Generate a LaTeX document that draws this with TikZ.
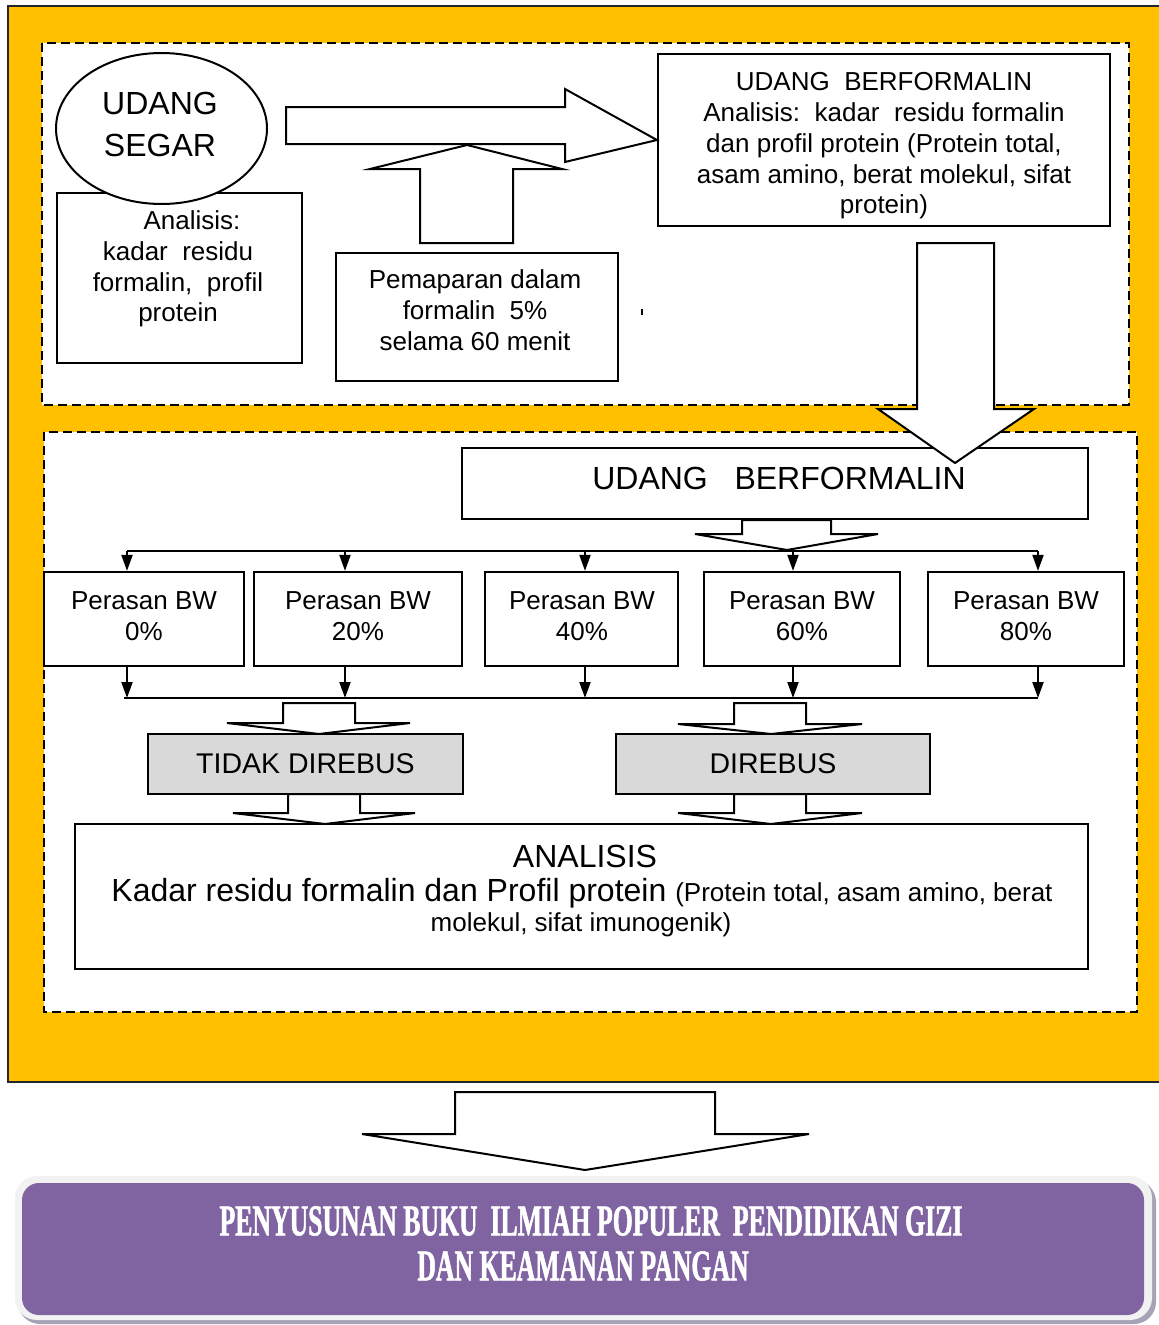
\documentclass[tikz,border=0pt]{standalone}
\usepackage{fontspec}
\setmainfont{Liberation Sans}
\newfontfamily\condfont[FakeStretch=0.585,FakeBold=1.2]{Liberation Serif}
\usetikzlibrary{arrows.meta,shapes.geometric}
\definecolor{gold}{HTML}{FFC000}
\definecolor{purp}{HTML}{8064A2}
\definecolor{boxgray}{HTML}{D9D9D9}
\definecolor{rimgray}{HTML}{F2F2F2}
\definecolor{shadowgray}{HTML}{A5A3B5}
\newcommand\bodyfs{\fontsize{26}{30.75}\selectfont}
\newcommand\titlefs{\fontsize{32}{42}\selectfont}
\newcommand\midfs{\fontsize{28.5}{34}\selectfont}
\begin{document}
\begin{tikzpicture}[x=1pt,y=-1pt,
  box/.style={draw, line width=2.2pt, fill=white, inner sep=0pt},
  grbox/.style={box, fill=boxgray, line width=1.8pt},
  blockarrow/.style={draw, line width=2pt, fill=white, line join=miter},
  dashbox/.style={draw, line width=2pt, dash pattern=on 9pt off 5pt, fill=white},
  flow/.style={line width=2pt, -{Triangle[width=11pt,length=16pt]}},
  bus/.style={line width=2pt},
  txt/.style={inner sep=0pt, align=center, font=\bodyfs}]
\useasboundingbox (0,0) rectangle (1159,1325);
\clip (0,0) rectangle (1159,1325);
\fill[white] (0,0) rectangle (1159,1325);
% outer yellow panel
\draw[fill=gold, draw=black!85, line width=2pt] (8,6) rectangle (1175,1082);
\draw[dashbox] (42,43) rectangle (1129,405);
\draw[dashbox] (44,432) rectangle (1137,1012);

% ---- top section ----
\node[box, minimum width=245, minimum height=170, anchor=north west] (ana) at (56,192) {};
\node[ellipse, draw, line width=2pt, fill=white, minimum width=211, minimum height=151, inner sep=0pt] (segar) at (161.5,128.5) {};
\node[txt, font=\titlefs] (segartxt) at (160,124) {UDANG\\SEGAR};
\node[txt] (anatxt) at (178,269) {\hspace*{28pt}Analisis:\\kadar\ \ residu\\formalin,\ \ profil\\protein};

\node[box, minimum width=452, minimum height=172] (bf1) at (884,140) {};
\node[txt] (bf1txt) at (884,146)
  {UDANG\ \ BERFORMALIN\\Analisis:\ \ kadar\ \ residu formalin\\dan profil protein (Protein total,\\asam amino, berat molekul, sifat\\protein)};

\draw[blockarrow] (286,107) -- (565,107) -- (565,89) -- (bf1.west) -- (565,162) -- (565,144) -- (286,144) -- cycle;
\draw[blockarrow] (420,243) -- (420,169) -- (370,169) -- (467,145) -- (562,169) -- (513,169) -- (513,243) -- cycle;

\node[box, minimum width=282, minimum height=128, anchor=north west] (pem) at (335,252) {};
\node[txt] (pemtxt) at (475,310) {Pemaparan dalam\\formalin\ \ 5\%\\selama 60 menit};
\draw[line width=2pt] (642,309) -- (642,315);

% ---- lower section ----
\node[box, minimum width=626, minimum height=71] (bf2) at (775,483.5) {};
\node[inner sep=0pt, font=\titlefs] (bf2txt) at (779,478) {UDANG\ \ \ BERFORMALIN};

\draw[blockarrow] (917,243) -- (994,243) -- (994,409) -- (1034,409) -- (955,463) -- (878,409) -- (917,409) -- cycle;

\draw[blockarrow] (742,520) -- (831,520) -- (831,534) -- (878,534) -- (787,550) -- (695,534) -- (742,534) -- cycle;

\coordinate (busL) at (127,551);
\coordinate (busR) at (1038,551);
\draw[bus] (busL) -- (busR);

\node[box, minimum width=200, minimum height=94] (p0) at (144,619) {};
\node[box, minimum width=208, minimum height=94] (p20) at (358,619) {};
\node[box, minimum width=193, minimum height=94] (p40) at (581.5,619) {};
\node[box, minimum width=196, minimum height=94] (p60) at (802,619) {};
\node[box, minimum width=196, minimum height=94] (p80) at (1026,619) {};
\node[txt] (p0txt) at (144,616) {Perasan BW\\0\%};
\node[txt] (p20txt) at (358,616) {Perasan BW\\20\%};
\node[txt] (p40txt) at (582,616) {Perasan BW\\40\%};
\node[txt] (p60txt) at (802,616) {Perasan BW\\60\%};
\node[txt] (p80txt) at (1026,616) {Perasan BW\\80\%};

\coordinate (d0) at (127,551);
\coordinate (d20) at (345,551);
\coordinate (d40) at (585,551);
\coordinate (d60) at (793,551);
\coordinate (d80) at (1038,551);
\draw[flow] (d0) -- (d0 |- p0.north);
\draw[flow] (d20) -- (d20 |- p20.north);
\draw[flow] (d40) -- (d40 |- p40.north);
\draw[flow] (d60) -- (d60 |- p60.north);
\draw[flow] (d80) -- (d80 |- p80.north);

\coordinate (u0) at (127,698);
\coordinate (u20) at (345,698);
\coordinate (u40) at (585,698);
\coordinate (u60) at (793,698);
\coordinate (u80) at (1038,698);
\coordinate (bus2L) at (124,698);
\draw[bus] (bus2L) -- (u80);
\draw[flow] (u0 |- p0.south) -- (u0);
\draw[flow] (u20 |- p20.south) -- (u20);
\draw[flow] (u40 |- p40.south) -- (u40);
\draw[flow] (u60 |- p60.south) -- (u60);
\draw[flow] (u80 |- p80.south) -- (u80);

\draw[blockarrow] (283,703) -- (355,703) -- (355,723) -- (410,723) -- (319,734) -- (227,723) -- (283,723) -- cycle;
\draw[blockarrow] (734,703) -- (806,703) -- (806,724) -- (862,724) -- (771,734) -- (678,724) -- (734,724) -- cycle;

\node[grbox, minimum width=315, minimum height=60, font=\midfs] (tidak) at (305.5,764) {TIDAK DIREBUS};
\node[grbox, minimum width=314, minimum height=60, font=\midfs] (rebus) at (773,764) {DIREBUS};

\node[box, minimum width=1013, minimum height=145] (anl) at (581.5,896.5) {};
\draw[blockarrow] (288,794) -- (360,794) -- (360,813) -- (415,813) -- (325,824) -- (233,813) -- (288,813) -- cycle;
\draw[blockarrow] (734,794) -- (806,794) -- (806,813) -- (862,813) -- (771,824) -- (678,813) -- (734,813) -- cycle;

\node[inner sep=0pt, font=\titlefs] (anl1) at (585,856) {ANALISIS};
\node[inner sep=0pt, font=\titlefs] (anl2) at (582,893) {Kadar residu formalin dan Profil protein\ {\bodyfs(Protein total, asam amino, berat}};
\node[inner sep=0pt, font=\bodyfs] (anl3) at (581,925) {molekul, sifat imunogenik)};

% ---- final arrow and result ----
\draw[blockarrow] (455,1092) -- (715,1092) -- (715,1134) -- (809,1134) -- (585,1170) -- (362,1134) -- (455,1134) -- cycle;

\fill[shadowgray, rounded corners=22pt] (18,1180) rectangle (1156,1324);
\fill[rimgray, rounded corners=22pt] (15,1176) rectangle (1152,1320);
\node[fill=purp, rounded corners=17pt, minimum width=1122, minimum height=132, inner sep=0pt] (book) at (583,1249) {};
\node[text=white, inner sep=0pt, font=\condfont\bfseries\fontsize{44}{45}\selectfont] (booktxt1) at (591,1221)
  {PENYUSUNAN BUKU\ \ ILMIAH POPULER\ \ PENDIDIKAN GIZI};
\node[text=white, inner sep=0pt, font=\condfont\bfseries\fontsize{44}{45}\selectfont] (booktxt2) at (583,1266)
  {DAN KEAMANAN PANGAN};
\end{tikzpicture}
\end{document}
